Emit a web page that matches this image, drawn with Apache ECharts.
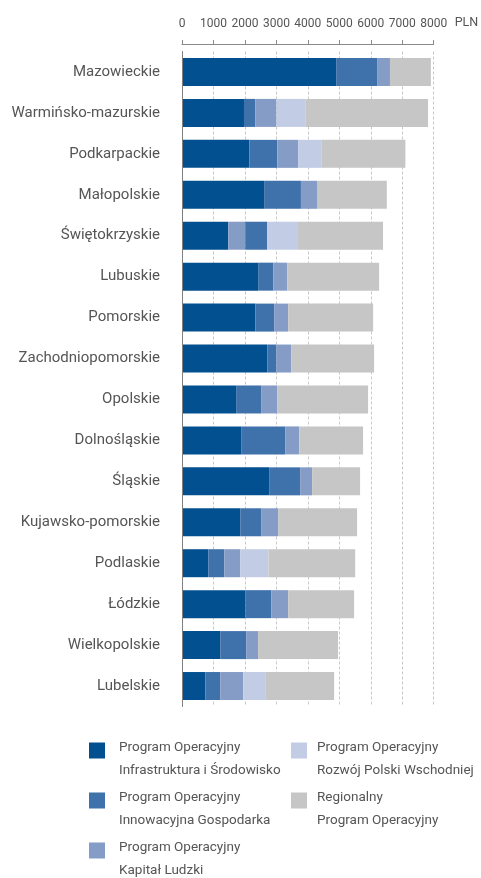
<!DOCTYPE html>
<html>
<head>
<meta charset="utf-8">
<script src="https://cdn.jsdelivr.net/npm/echarts@6/dist/echarts.min.js"></script>
<style>
  html, body { margin: 0; padding: 0; background: #fff; }
  #chart { width: 481px; height: 878px; }
</style>
</head>
<body>
<div id="chart"></div>
<script>
// ---- data ----
const regions = [
  'Mazowieckie', 'Warmińsko-mazurskie', 'Podkarpackie', 'Małopolskie',
  'Świętokrzyskie', 'Lubuskie', 'Pomorskie', 'Zachodniopomorskie',
  'Opolskie', 'Dolnośląskie', 'Śląskie', 'Kujawsko-pomorskie',
  'Podlaskie', 'Łódzkie', 'Wielkopolskie', 'Lubelskie'
];
const poInfrastruktura = [4900, 1970, 2140, 2610, 1470, 2420, 2330, 2710, 1720, 1880, 2770, 1850, 835, 2010, 1215, 740];
const poInnowacyjna    = [1300, 360, 890, 1170, 700, 480, 600, 285, 795, 1400, 985, 665, 510, 825, 825, 475];
const poKapital        = [410, 670, 670, 510, 540, 445, 445, 475, 510, 445, 380, 540, 510, 540, 380, 730];
const poRozwoj         = [0, 920, 730, 0, 950, 0, 0, 0, 0, 0, 0, 0, 890, 0, 0, 700];
const rpo              = [1300, 3900, 2670, 2220, 2730, 2920, 2700, 2635, 2890, 2030, 1525, 2510, 2760, 2095, 2540, 2190];
// rows where the Kapitał Ludzki segment is drawn before Innowacyjna Gospodarka
const kapitalFirstRows = ['Świętokrzyskie'];
const xTicks = { min: 0, max: 8000, interval: 1000 };
const seriesNames = [
  'Program Operacyjny\nInfrastruktura i Środowisko',
  'Program Operacyjny\nInnowacyjna Gospodarka',
  'Program Operacyjny\nKapitał Ludzki',
  'Program Operacyjny\nRozwój Polski Wschodniej',
  'Regionalny\nProgram Operacyjny'
];
const colors = ['#02508F', '#3F71AB', '#849CC6', '#C2CCE4', '#C6C6C6'];
const unitLabel = 'PLN';

// ---- chart ----
const FONT = 'Roboto, "Liberation Sans", sans-serif';
const chart = echarts.init(document.getElementById('chart'), null, { renderer: 'canvas' });

const kapFirst = regions.map(r => kapitalFirstRows.includes(r));
const kapPre  = poKapital.map((v, i) => kapFirst[i] ? v : 0);
const kapPost = poKapital.map((v, i) => kapFirst[i] ? 0 : v);

function bar(name, data, color) {
  return {
    type: 'bar', name: name, stack: 'total', data: data,
    barWidth: 28,
    itemStyle: { color: color },
    emphasis: { disabled: true },
    animation: false
  };
}

const legendIcon = 'path://M0,0h16v16h-16z M0,34h0.01v0.01h-0.01z';
const legendCommon = {
  orient: 'vertical',
  icon: legendIcon,
  itemWidth: 16,
  itemHeight: 34,
  itemGap: 4,
  padding: 0,
  height: 200,
  selectedMode: false
};

chart.setOption({
  backgroundColor: '#fff',
  animation: false,
  textStyle: { fontFamily: FONT },
  grid: { left: 182, right: 47.3, top: 51.5, bottom: 171.5, containLabel: false, outerBoundsMode: 'none' },
  xAxis: {
    type: 'value', position: 'top', offset: 7.5,
    min: xTicks.min, max: xTicks.max, interval: xTicks.interval,
    name: unitLabel, nameLocation: 'end', nameGap: 21,
    nameTextStyle: { fontFamily: FONT, fontSize: 12.5, color: '#555', verticalAlign: 'bottom', align: 'left', padding: [0, 0, 15, 0] },
    axisLine: { show: true, lineStyle: { color: '#8a8a8a', width: 1 } },
    axisTick: { show: true, length: 4, lineStyle: { color: '#8a8a8a' } },
    axisLabel: { fontFamily: FONT, fontSize: 12, color: '#555', margin: 14, formatter: v => String(v) },
    splitLine: { show: true, lineStyle: { color: '#c8c8c8', type: [3, 2], width: 1 } }
  },
  yAxis: {
    type: 'category', inverse: true, data: regions,
    axisLine: { show: true, lineStyle: { color: '#808080', width: 1 } },
    axisTick: { show: false },
    axisLabel: { fontFamily: FONT, fontSize: 15, color: '#555', margin: 22 },
    z: 10
  },
  legend: [
    Object.assign({}, legendCommon, {
      left: 89, top: 736.5,
      textStyle: { fontFamily: FONT, fontSize: 13.5, lineHeight: 23, color: '#555', padding: [0, 0, 0, 9] },
      data: [seriesNames[0], seriesNames[1], seriesNames[2]]
    }),
    Object.assign({}, legendCommon, {
      left: 291, top: 736.5,
      textStyle: { fontFamily: FONT, fontSize: 13.5, lineHeight: 23, color: '#555', padding: [0, 0, 0, 5] },
      data: [seriesNames[3], seriesNames[4]]
    })
  ],
  series: [
    bar(seriesNames[0], poInfrastruktura, colors[0]),
    bar(seriesNames[2], kapPre, colors[2]),
    bar(seriesNames[1], poInnowacyjna, colors[1]),
    bar(seriesNames[2], kapPost, colors[2]),
    bar(seriesNames[3], poRozwoj, colors[3]),
    bar(seriesNames[4], rpo, colors[4])
  ]
});
</script>
</body>
</html>
